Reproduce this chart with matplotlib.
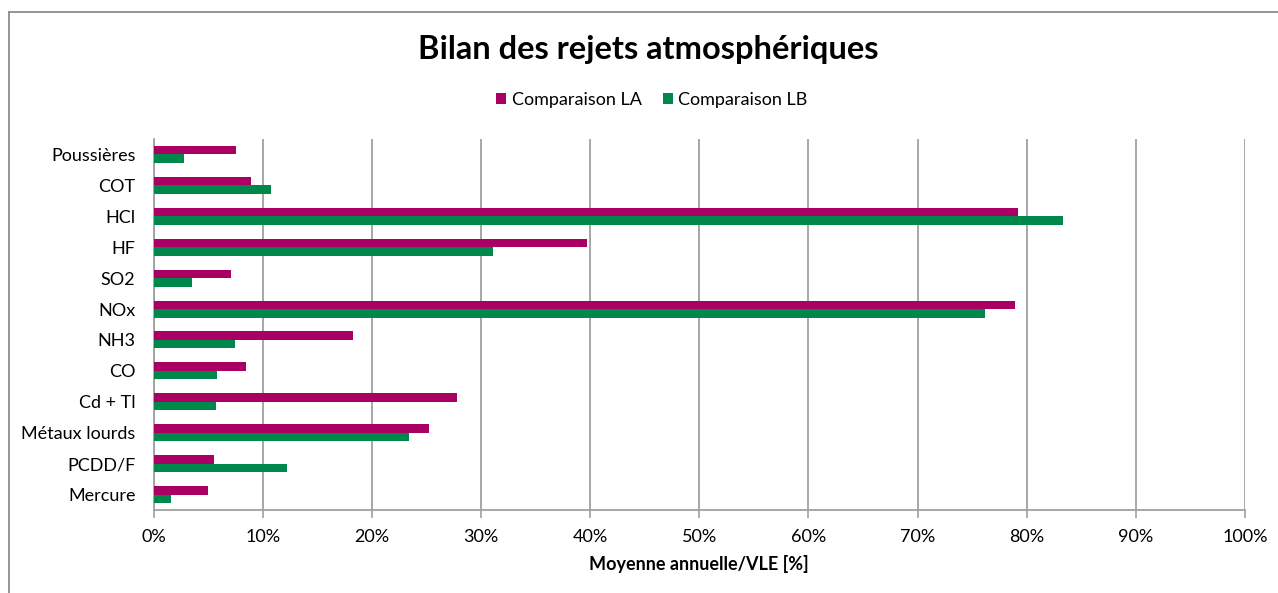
import matplotlib
matplotlib.use("Agg")
import matplotlib.pyplot as plt
from matplotlib.lines import Line2D
from matplotlib.ticker import FuncFormatter
import numpy as np

categories = ["Poussières", "COT", "HCl", "HF", "SO2", "NOx", "NH3", "CO",
              "Cd + Tl", "Métaux lourds", "PCDD/F", "Mercure"]
comparaison_la = [7.6, 8.9, 79.2, 39.7, 7.1, 78.9, 18.3, 8.5, 27.8, 25.2, 5.5, 5.0]
comparaison_lb = [2.8, 10.8, 83.3, 31.1, 3.5, 76.2, 7.5, 5.8, 5.7, 23.4, 12.2, 1.6]
series_names = ["Comparaison LA", "Comparaison LB"]
x_ticks = list(range(0, 101, 10))

plt.rcParams['font.family'] = ['Lato', 'DejaVu Sans']

W, H = 1278, 593
fig = plt.figure(figsize=(W / 100, H / 100), dpi=100)
ax = fig.add_axes([153.5 / W, 1 - 510 / H, (1245 - 153.5) / W, (510 - 139) / H])

c_la = "#AA0064"
c_lb = "#00874B"
grid_c = "#A0A0A0"
fs = 13

y = np.arange(len(categories))
h = 0.275
ax.barh(y - h / 2, comparaison_la, height=h, color=c_la, label=series_names[0], zorder=3)
ax.barh(y + h / 2, comparaison_lb, height=h, color=c_lb, label=series_names[1], zorder=3)

ax.set_xlim(0, 100)
ax.set_ylim(len(categories) - 0.5, -0.5)
ax.set_yticks(y)
ax.set_yticklabels(categories, fontsize=fs, color="#000000")
ax.set_xticks(x_ticks)
ax.xaxis.set_major_formatter(FuncFormatter(lambda v, p: f"{int(v)}%"))
ax.tick_params(axis='x', length=6, width=1.2, color=grid_c, labelsize=fs, pad=8)
ax.tick_params(axis='y', length=0, pad=13)
ax.grid(axis='x', color=grid_c, linewidth=1.3, zorder=0)
for s in ["top", "right"]:
    ax.spines[s].set_visible(False)
for s in ["bottom", "left"]:
    ax.spines[s].set_color(grid_c)
    ax.spines[s].set_linewidth(1.3)

ax.set_xlabel("Moyenne annuelle/VLE [%]", fontsize=fs, fontweight='bold', labelpad=7)

fig.text(0.5 * (418 + 878) / W, 1 - 50 / H, "Bilan des rejets atmosphériques",
         ha='center', va='center', fontsize=23.5, fontweight='bold')

fig.legend(loc='center', bbox_to_anchor=(652 / W, 1 - 100 / H), ncol=2, frameon=False,
           fontsize=fs, handlelength=0.55, handleheight=0.6, handletextpad=0.3,
           columnspacing=1.2)

fig.add_artist(Line2D([9 / W, 1], [1 - 11.5 / H, 1 - 11.5 / H], color="#8C8C8C", linewidth=1.3,
                      transform=fig.transFigure))
fig.add_artist(Line2D([9 / W, 9 / W], [0, 1 - 11.5 / H], color="#8C8C8C", linewidth=1.3,
                      transform=fig.transFigure))

fig.savefig("out.png", dpi=100)
